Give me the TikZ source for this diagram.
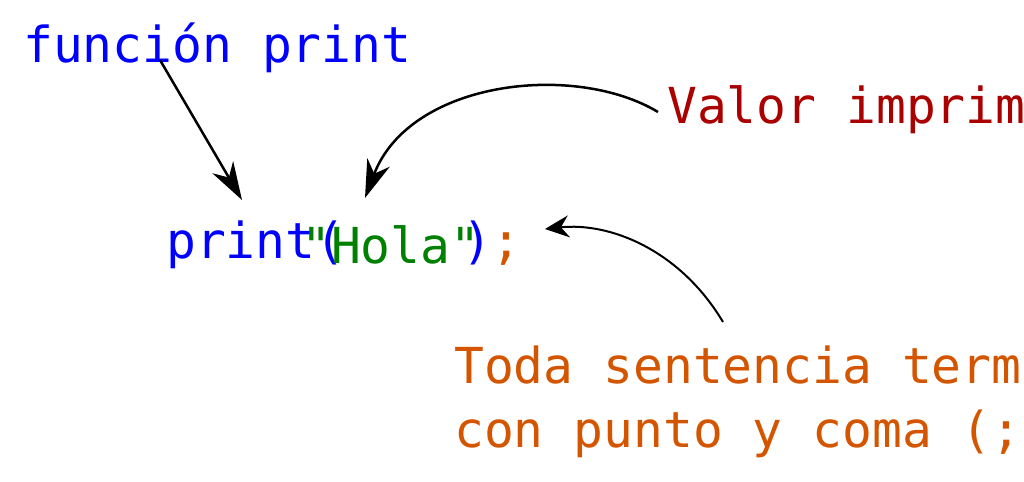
\documentclass[tikz,border=0pt]{standalone}
\usepackage{fontspec}
\setmonofont{DejaVu Sans Mono}
\usepackage{xcolor}
\usetikzlibrary{arrows.meta, calc, positioning}

\definecolor{azul}{HTML}{0000FF}
\definecolor{verde}{HTML}{008000}
\definecolor{rojo}{HTML}{AA0000}
\definecolor{naranja}{HTML}{D45500}

\begin{document}
\begin{tikzpicture}[x=0.5pt,y=-0.5pt,line width=1.25pt]
  \tikzstyle{code}=[inner sep=0pt,anchor=base west,font=\ttfamily\fontsize{24.8}{32}\selectfont]
  \tikzstyle{flecha}=[-{Stealth[length=19pt,width=12pt,inset=6pt]}]
  \tikzstyle{flechita}=[line width=1pt,-{Stealth[length=12pt,width=11pt,inset=4pt]}]

  \path[use as bounding box] (0,0) rectangle (1024,482);
  \clip (0,0) rectangle (1024,482);

  \node[code,text=azul]    (funcion) at (22,62)   {función print};
  \node[code,text=azul]    (print)   at (165,258) {print(};
  \node[code,text=verde]   (hola)    at (300,263) {"Hola"};
  \node[code,text=azul]    (cierre)  at (461,258) {)};
  \node[code,text=naranja] (pyc)     at (490,258) {;};
  \node[code,text=rojo]    (valor)   at (666,123) {Valor imprimido};
  \node[code,text=naranja] (toda)    at (453,383) {Toda sentencia termina};
  \node[code,text=naranja] (con)     at (453,447) {con punto y coma (;)};

  \draw[flecha] ($(funcion.base west)+(138,-2)$) -- ($(print.base west)+(77,-58)$);
  \draw[flecha] ($(valor.base west)+(-8,-11)$)
    .. controls (575,62) and (410,80) .. ($(hola.base west)+(65,-65)$);
  \draw[flechita] ($(toda.base west)+(270,-61)$)
    .. controls (680,250) and (610,222) .. ($(pyc.base west)+(55,-29)$);
\end{tikzpicture}
\end{document}
